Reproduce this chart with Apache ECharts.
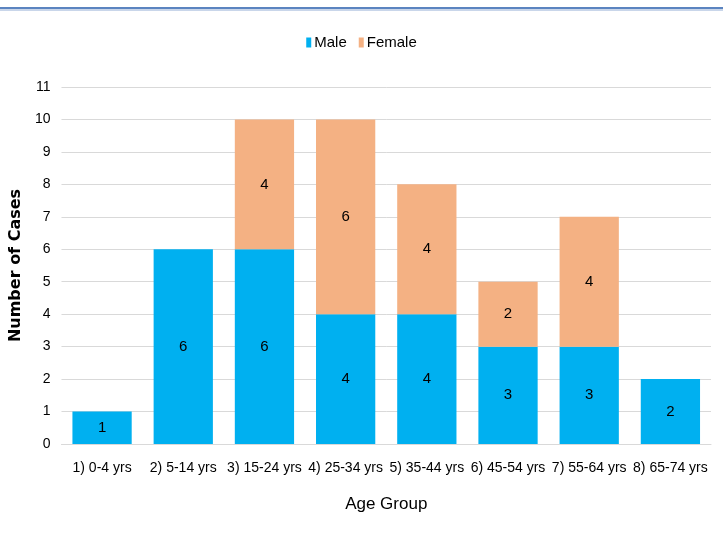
<!DOCTYPE html>
<html><head><meta charset="utf-8">
<script src="https://cdn.jsdelivr.net/npm/echarts@6/dist/echarts.min.js"></script>
<style>html,body{margin:0;padding:0;background:#fff}#c{width:723px;height:543px}</style>
</head><body><div id="c"></div>
<script>
var categories = ['1) 0-4 yrs','2) 5-14 yrs','3) 15-24 yrs','4) 25-34 yrs','5) 35-44 yrs','6) 45-54 yrs','7) 55-64 yrs','8) 65-74 yrs'];
var male = [1,6,6,4,4,3,3,2];
var female = [null,null,4,6,4,2,4,null];
var narrow = '"Liberation Sans Narrow","Arial Narrow","Liberation Sans",Arial,sans-serif';
var chart = echarts.init(document.getElementById('c'));
chart.setOption({
  animation:false,
  graphic:[{type:'rect',shape:{x:0,y:7,width:723,height:2},style:{fill:'#5B84C0'},z:10},
           {type:'rect',shape:{x:0,y:9,width:723,height:2},style:{fill:'#C9D6EA'},z:10}],
  legend:{top:30,left:'center',itemWidth:5,itemHeight:10,itemGap:12,
    textStyle:{fontFamily:narrow,fontSize:15,color:'#000',padding:[0,0,0,-2]},
    data:['Male','Female'], icon:'rect'},
  grid:{left:59,right:12,top:87,bottom:99,containLabel:false},
  xAxis:{type:'category',data:categories,
    axisLine:{show:true,lineStyle:{color:'#D9D9D9',width:1}},axisTick:{show:false},
    axisLabel:{fontFamily:narrow,fontSize:14,color:'#000',margin:17,interval:0},
    name:'Age Group',nameLocation:'middle',nameGap:52,
    nameTextStyle:{fontFamily:narrow,fontSize:17,color:'#000'}},
  yAxis:{type:'value',min:0,max:11,interval:1,
    axisLine:{show:false},axisTick:{show:false},
    splitLine:{lineStyle:{color:'#D9D9D9',width:1}},
    axisLabel:{fontFamily:narrow,fontSize:14,color:'#000',margin:11},
    name:'Number of Cases',nameLocation:'middle',nameGap:31,
    nameTextStyle:{fontFamily:'"DejaVu Sans",sans-serif',fontSize:16,fontWeight:'bold',color:'#000'}},
  series:[
    {name:'Male',type:'bar',stack:'a',data:male,barWidth:'73%',itemStyle:{color:'#00B0F0'},
     label:{show:true,position:'inside',fontFamily:narrow,fontSize:15,color:'#000'}},
    {name:'Female',type:'bar',stack:'a',data:female,barWidth:'73%',itemStyle:{color:'#F4B183'},
     label:{show:true,position:'inside',fontFamily:narrow,fontSize:15,color:'#000'}}
  ]
});
</script></body></html>
